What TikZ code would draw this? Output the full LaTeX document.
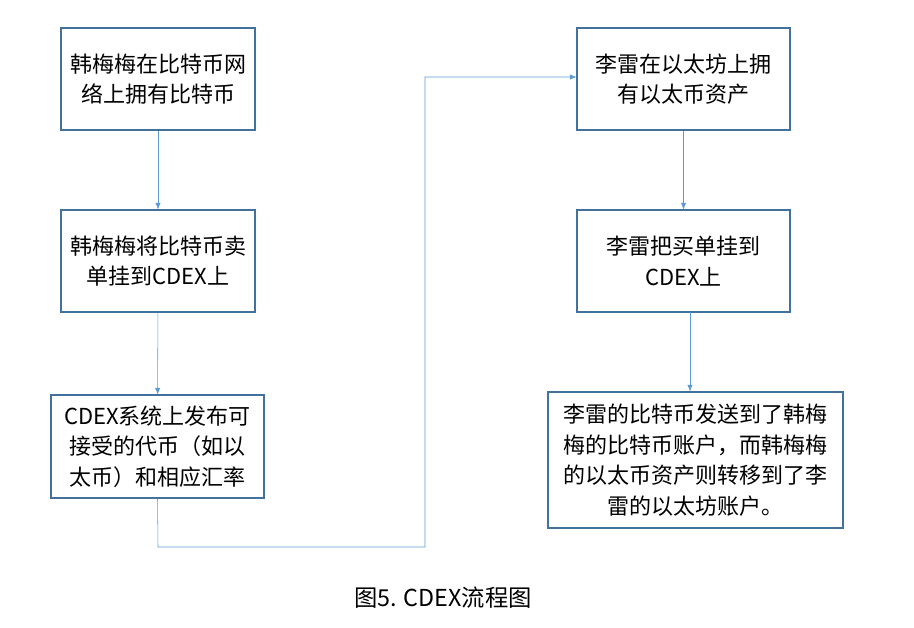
\documentclass[tikz,border=0pt]{standalone}
\usepackage{fontspec}
\setmainfont{Noto Sans CJK SC}
\usetikzlibrary{arrows.meta}
\definecolor{boxline}{HTML}{41719C}
\definecolor{flowline}{HTML}{5B9BD5}

\begin{document}
\begin{tikzpicture}[x=0.75pt, y=-0.75pt,
        stage/.style={draw=boxline, thick, align=center, font=\fontsize{16.5}{23}\selectfont, inner sep=0pt},
        flow/.style={draw=flowline, -{Latex[length=5pt,width=4pt]}}]
        \useasboundingbox (0,0) rectangle (914,628);
        \node[stage, minimum width=194*0.75pt, minimum height=102*0.75pt] (own) at (158,79) {韩梅梅在比特币网\\络上拥有比特币};
        \node[stage, minimum width=194*0.75pt, minimum height=102*0.75pt] (sell) at (158,261) {韩梅梅将比特币卖\\单挂到CDEX上};
        \node[stage, minimum width=213*0.75pt, minimum height=103*0.75pt] (rate) at (157.5,446.5) {CDEX系统上发布可\\接受的代币（如以\\太币）和相应汇率};
        \node[stage, minimum width=213*0.75pt, minimum height=102*0.75pt] (eth) at (683.5,79) {李雷在以太坊上拥\\有以太币资产};
        \node[stage, minimum width=213*0.75pt, minimum height=102*0.75pt] (buy) at (683.5,261) {李雷把买单挂到\\CDEX上};
        \node[stage, minimum width=295*0.75pt, minimum height=136*0.75pt] (swap) at (695.5,460) {李雷的比特币发送到了韩梅\\梅的比特币账户，而韩梅梅\\的以太币资产则转移到了李\\雷的以太坊账户。};
        \node[font=\fontsize{17.5}{20}\selectfont] (cap) at (443,598) {图5. CDEX流程图};
        \coordinate (c1) at (158,547);
        \coordinate (c2) at (425,547);
        \coordinate (c3) at (425,77);
        \coordinate (b5) at (690,312);
        \draw[flow] (own) -- (sell);
        \draw[flow] (sell) -- (rate);
        \draw[flow] (eth) -- (buy);
        \draw[flow] (b5) -- (b5 |- swap.north);
        \draw[flow] (rate.south) -- (c1) -- (c2) -- (c3) -- (eth.west |- c3);
\end{tikzpicture}
\end{document}
